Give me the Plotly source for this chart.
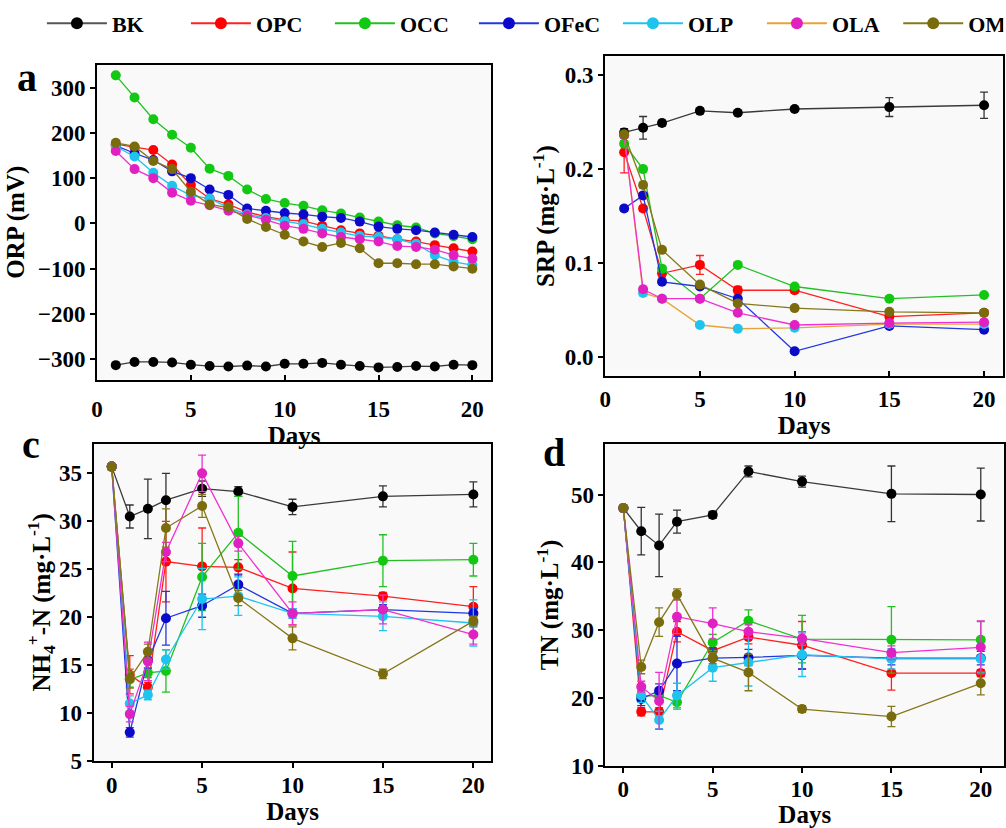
import plotly.graph_objects as go

# ---------------- data ----------------
series = ["BK", "OPC", "OCC", "OFeC", "OLP", "OLA", "OM"]

days_a = list(range(1, 21))
orp_bk = [-313, -306, -306, -307, -312, -315, -316, -314, -316, -310, -310, -308, -312, -315, -318, -317, -315, -316, -312, -313]
orp_opc = [175, 168, 162, 130, 85, 55, 42, 25, 15, 8, 5, -5, -15, -22, -27, -35, -40, -48, -55, -62]
orp_occ = [327, 278, 230, 196, 167, 121, 105, 75, 54, 45, 39, 29, 22, 13, 4, -4, -9, -22, -28, -35]
orp_ofec = [172, 155, 140, 115, 100, 75, 63, 33, 28, 23, 20, 15, 12, 4, -7, -12, -15, -20, -25, -30]
orp_olp = [170, 148, 112, 83, 62, 55, 35, 20, 12, 5, -2, -12, -20, -28, -30, -35, -45, -70, -85, -92]
orp_ola = [160, 120, 100, 68, 50, 40, 28, 18, 8, -5, -12, -22, -30, -35, -40, -50, -52, -58, -70, -78]
orp_om = [178, 170, 138, 120, 70, 42, 35, 10, -8, -25, -40, -52, -43, -55, -88, -88, -90, -90, -95, -100]

days_b = [1, 2, 3, 5, 7, 10, 15, 20]
srp_bk = [0.239, 0.244, 0.249, 0.262, 0.260, 0.264, 0.266, 0.268]
srp_opc = [0.218, 0.158, 0.089, 0.098, 0.071, 0.071, 0.043, 0.047]
srp_occ = [0.227, 0.200, 0.094, 0.062, 0.098, 0.075, 0.062, 0.066]
srp_ofec = [0.158, 0.172, 0.080, 0.075, 0.062, 0.006, 0.033, 0.029]
srp_olp = [0.236, 0.068, 0.062, 0.034, 0.030, 0.031, 0.035, 0.035]
srp_ola = [0.236, 0.072, 0.062, 0.062, 0.047, 0.034, 0.036, 0.037]
srp_om = [0.237, 0.183, 0.114, 0.077, 0.057, 0.052, 0.048, 0.047]
srp_err_bk = [0.004, 0.012, 0.003, 0.003, 0.002, 0.002, 0.010, 0.014]
srp_err_opc = [0.022, 0.003, 0.004, 0.010, 0.004, 0.003, 0.003, 0.003]
srp_err_occ = [0.003, 0.003, 0.003, 0.002, 0.002, 0.002, 0.002, 0.002]
srp_err_ofec = [0.003, 0.003, 0.002, 0.002, 0.002, 0.002, 0.002, 0.002]
srp_err_olp = [0.003, 0.003, 0.002, 0.002, 0.002, 0.002, 0.003, 0.003]
srp_err_ola = [0.003, 0.003, 0.002, 0.002, 0.002, 0.002, 0.003, 0.003]
srp_err_om = [0.003, 0.003, 0.002, 0.002, 0.002, 0.002, 0.002, 0.002]

days_cd = [0, 1, 2, 3, 5, 7, 10, 15, 20]
nh4_bk = [35.7, 30.5, 31.3, 32.2, 33.4, 33.1, 31.5, 32.6, 32.8]
nh4_opc = [35.7, 14.0, 12.7, 25.8, 25.3, 25.2, 23.0, 22.2, 21.1]
nh4_occ = [35.7, 13.5, 14.2, 14.4, 24.2, 28.8, 24.3, 25.9, 26.0]
nh4_ofec = [35.7, 8.0, 15.5, 19.9, 21.2, 23.4, 20.4, 20.8, 20.4]
nh4_olp = [35.7, 11.0, 11.9, 15.6, 21.9, 22.2, 20.4, 20.1, 19.4]
nh4_ola = [35.7, 9.9, 15.4, 26.8, 35.0, 27.7, 20.4, 20.8, 18.2]
nh4_om = [35.7, 13.6, 16.4, 29.3, 31.6, 22.0, 17.8, 14.1, 19.6]
nh4_err_bk = [0.3, 1.2, 3.1, 2.8, 0.8, 0.5, 0.8, 1.1, 1.3]
nh4_err_opc = [0.3, 2.0, 0.5, 4.2, 4.0, 0.8, 3.8, 0.4, 2.1]
nh4_err_occ = [0.3, 0.8, 0.5, 2.2, 3.5, 3.8, 3.6, 2.7, 1.7]
nh4_err_ofec = [0.3, 0.5, 0.8, 2.8, 1.2, 1.1, 0.5, 0.5, 0.5]
nh4_err_olp = [0.3, 0.8, 0.5, 1.0, 3.2, 2.0, 0.5, 1.5, 2.4]
nh4_err_ola = [0.3, 0.8, 2.0, 1.0, 1.9, 0.8, 1.2, 1.5, 1.0]
nh4_err_om = [0.3, 1.0, 0.8, 2.0, 1.2, 0.8, 1.2, 0.5, 0.5]

tn_bk = [48.0, 44.6, 42.5, 46.0, 47.0, 53.4, 51.9, 50.1, 50.0]
tn_opc = [48.0, 18.0, 18.0, 29.8, 27.0, 29.0, 27.8, 23.7, 23.7]
tn_occ = [48.0, 20.3, 20.4, 19.4, 28.2, 31.4, 28.7, 28.6, 28.6]
tn_ofec = [48.0, 19.9, 21.1, 25.1, 25.9, 26.0, 26.3, 25.9, 25.9]
tn_olp = [48.0, 20.4, 16.8, 20.4, 24.5, 25.3, 26.4, 25.8, 25.8]
tn_ola = [48.0, 21.7, 19.6, 32.0, 31.0, 29.8, 28.8, 26.7, 27.5]
tn_om = [48.0, 24.6, 31.2, 35.3, 25.9, 23.8, 18.4, 17.3, 22.2]
tn_err_bk = [0.3, 3.5, 4.6, 1.7, 0.5, 0.8, 0.8, 4.1, 3.9]
tn_err_opc = [0.3, 0.6, 0.6, 1.5, 1.0, 1.0, 3.5, 2.5, 0.5]
tn_err_occ = [0.3, 0.8, 0.8, 1.0, 1.2, 1.6, 3.5, 4.9, 2.7]
tn_err_ofec = [0.3, 1.0, 1.0, 4.0, 1.5, 1.2, 2.0, 1.0, 1.0]
tn_err_olp = [0.3, 1.0, 1.3, 1.8, 2.0, 3.5, 3.2, 1.5, 2.0]
tn_err_ola = [0.3, 0.8, 4.2, 2.5, 2.3, 1.0, 1.0, 1.0, 3.9]
tn_err_om = [0.3, 1.0, 2.1, 0.8, 0.8, 2.7, 0.5, 1.5, 1.7]

orp_vals = [orp_bk, orp_opc, orp_occ, orp_ofec, orp_olp, orp_ola, orp_om]
srp_vals = [srp_bk, srp_opc, srp_occ, srp_ofec, srp_olp, srp_ola, srp_om]
srp_errs = [srp_err_bk, srp_err_opc, srp_err_occ, srp_err_ofec, srp_err_olp, srp_err_ola, srp_err_om]
nh4_vals = [nh4_bk, nh4_opc, nh4_occ, nh4_ofec, nh4_olp, nh4_ola, nh4_om]
nh4_errs = [nh4_err_bk, nh4_err_opc, nh4_err_occ, nh4_err_ofec, nh4_err_olp, nh4_err_ola, nh4_err_om]
tn_vals = [tn_bk, tn_opc, tn_occ, tn_ofec, tn_olp, tn_ola, tn_om]
tn_errs = [tn_err_bk, tn_err_opc, tn_err_occ, tn_err_ofec, tn_err_olp, tn_err_ola, tn_err_om]

# ---------------- styles ----------------
marker_colors = ["#000000", "#ff0000", "#12c812", "#0a0ac8", "#1ec3ee", "#e020c0", "#7a6c0c"]
line_colors = ["#3a3a3a", "#ff2020", "#22c022", "#2038e0", "#1ec3ee", "#f030d0", "#85781a"]
legend_line_colors = ["#555555", "#ff2020", "#22c022", "#2038e0", "#1ec3ee", "#e8a23a", "#85781a"]
srp_line_colors = ["#3a3a3a", "#ff2020", "#22c022", "#2038e0", "#e8a23a", "#f030d0", "#85781a"]
FONT = "Liberation Serif"

fig = go.Figure()

# legend-only entries (last one goes to a second legend so spacing matches)
for i, name in enumerate(series):
    fig.add_trace(go.Scatter(
        x=[None], y=[None], mode="lines+markers", name=name,
        line=dict(color=legend_line_colors[i], width=2),
        marker=dict(color=marker_colors[i], size=12),
        showlegend=True, xaxis="x", yaxis="y",
        legend="legend2" if i == len(series) - 1 else "legend"))

def add_panel(xs, vals, errs, xa, ya, lcolors):
    for i in range(len(series)):
        err = None
        if errs is not None:
            err = dict(type="data", array=errs[i], visible=True,
                       color=lcolors[i] if i else "#333333",
                       thickness=1.3, width=4)
        fig.add_trace(go.Scatter(
            x=xs, y=vals[i], mode="lines+markers", name=series[i],
            showlegend=False, xaxis=xa, yaxis=ya,
            line=dict(color=lcolors[i], width=1.3),
            marker=dict(color=marker_colors[i], size=10),
            error_y=err))

add_panel(days_a, orp_vals, None, "x", "y", line_colors)
add_panel(days_b, srp_vals, srp_errs, "x2", "y2", srp_line_colors)
add_panel(days_cd, nh4_vals, nh4_errs, "x3", "y3", line_colors)
add_panel(days_cd, tn_vals, tn_errs, "x4", "y4", line_colors)

tickfont = dict(family=FONT, size=23, color="black", weight="bold")
titlefont = dict(family=FONT, size=25, color="black", weight="bold")

def xax(domain, anchor, rng, ticks, standoff_lbl):
    return dict(domain=domain, anchor=anchor, range=rng, tick0=0, dtick=5,
                showline=True, linewidth=2, linecolor="black", mirror=True,
                ticks=ticks, ticklen=5, tickwidth=1.5, tickcolor="black",
                showgrid=False, zeroline=False, tickfont=tickfont,
                ticklabelstandoff=standoff_lbl,
                title=dict(text="Days", font=titlefont, standoff=0))

def yax(domain, anchor, rng, dtick, title, standoff, fmt=None):
    d = dict(domain=domain, anchor=anchor, range=rng, dtick=dtick,
             showline=True, linewidth=2, linecolor="black", mirror=True,
             ticks="outside", ticklen=5, tickwidth=1.5, tickcolor="black",
             showgrid=False, zeroline=False, tickfont=tickfont,
             ticklabelstandoff=0,
             title=dict(text=title, font=titlefont, standoff=standoff))
    if fmt:
        d["tickformat"] = fmt
    return d

legend_font = dict(family=FONT, size=22, color="black", weight="bold")

fig.update_layout(
    width=1006, height=828,
    margin=dict(l=0, r=0, t=0, b=0, pad=0),
    paper_bgcolor="white", plot_bgcolor="#f9f9f9",
    font=dict(family=FONT, color="black"),
    xaxis=xax([0.0912, 0.4861], "y", [0, 21], "inside", 8),
    yaxis=yax([0.5342, 0.9203], "x", [-345, 350], 100, "ORP (mV)", 6),
    xaxis2=xax([0.6004, 0.999], "y2", [0, 21], "inside", 2),
    yaxis2=yax([0.539, 0.9308], "x2", [-0.02, 0.32], 0.1,
               "SRP (mg·L<sup>-1</sup>)", 3, ".1f"),
    xaxis3=xax([0.0878, 0.4864], "y3", [-1, 21], "outside", -3),
    yaxis3=yax([0.0661, 0.4557], "x3", [5, 38.1], 5,
               "NH<sub>4</sub><sup>+</sup>-N (mg·L<sup>-1</sup>)", 1),
    xaxis4=xax([0.6007, 1.0], "y4", [-1, 21.3], "outside", -4),
    yaxis4=yax([0.060, 0.4557], "x4", [10, 57.5], 10,
               "TN (mg·L<sup>-1</sup>)", 5),
    legend=dict(orientation="h", x=0.036, y=0.997, xanchor="left", yanchor="top",
                font=legend_font, entrywidth=69, bgcolor="rgba(0,0,0,0)",
                itemwidth=60),
    legend2=dict(orientation="h", x=0.894, y=0.997, xanchor="left", yanchor="top",
                 font=legend_font, entrywidth=30, bgcolor="rgba(0,0,0,0)",
                 itemwidth=60),
    annotations=[
        dict(text="a", x=0.021, y=0.9046, xref="paper", yref="paper",
             xanchor="center", yanchor="middle", showarrow=False,
             font=dict(family=FONT, size=40, weight="bold")),
        dict(text="c", x=0.0249, y=0.454, xref="paper", yref="paper",
             xanchor="center", yanchor="middle", showarrow=False,
             font=dict(family=FONT, size=40, weight="bold")),
        dict(text="d", x=0.5487, y=0.4444, xref="paper", yref="paper",
             xanchor="center", yanchor="middle", showarrow=False,
             font=dict(family=FONT, size=40, weight="bold")),
    ],
)

fig.write_html("out.html", config={"displayModeBar": False},
               post_script="document.body.style.margin='0';document.body.style.overflow='hidden';")
